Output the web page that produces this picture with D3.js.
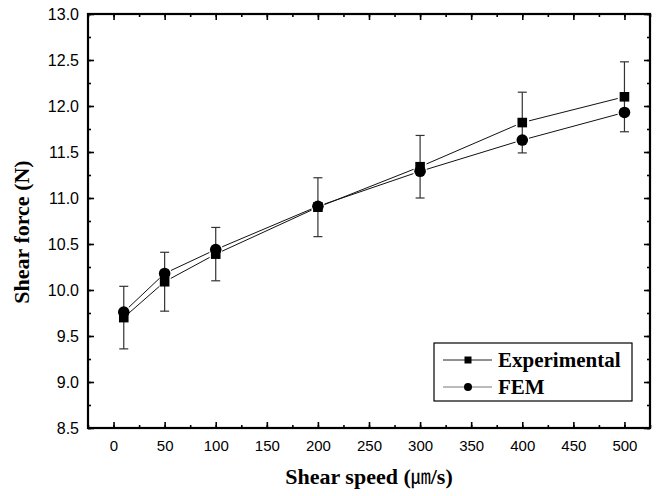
<!DOCTYPE html>
<html>
<head>
<meta charset="utf-8">
<script src="https://cdn.jsdelivr.net/npm/d3@7"></script>
<style>
  body { margin: 0; background: #fff; }
  svg { display: block; }
</style>
</head>
<body>
<div id="chart"></div>
<script>
// data
const speeds = [10, 50, 100, 200, 300, 400, 500];
const expForce = [9.70, 10.09, 10.39, 10.90, 11.34, 11.82, 12.10];
const expErr = [0.34, 0.32, 0.29, 0.32, 0.34, 0.33, 0.38];
const femForce = [9.76, 10.18, 10.44, 10.91, 11.29, 11.63, 11.93];
const xTicks = [0, 50, 100, 150, 200, 250, 300, 350, 400, 450, 500];
const yTicks = [8.5, 9.0, 9.5, 10.0, 10.5, 11.0, 11.5, 12.0, 12.5, 13.0];
const seriesNames = ["Experimental", "FEM"];

const W = 656,
    H = 496,
    plotL = 88, plotR = 650, plotT = 14, plotB = 428;

const svg = d3.select("#chart").append("svg")
    .attr("width", W)
    .attr("height", H);

const x = d3.scaleLinear().domain([-25, 525]).range([plotL, plotR]);
const y = d3.scaleLinear().domain([8.5, 13.0]).range([plotB, plotT]);

const minorX = d3.range(-25, 526, 25);
const minorY = d3.range(8.5, 13.01, 0.25);

// ticks (inward) on all four sides
function tickAxes(g, axisFn, scale, majors, minors, labels, fmt, pad) {
    g.append("g").call(axisFn(scale).tickValues(minors).tickSize(-3).tickFormat(""));
    return g.append("g").call(axisFn(scale).tickValues(majors).tickSize(-6)
        .tickPadding(labels ? pad : 0)
        .tickFormat(labels ? fmt : ""));
}

const gx = svg.append("g").attr("transform", "translate(0," + plotB + ")");
tickAxes(gx, d3.axisBottom, x, xTicks, minorX, true, d3.format(".0f"), 12)
    .selectAll("text").attr("font-size", 15);

const gxt = svg.append("g").attr("transform", "translate(0," + plotT + ")");
tickAxes(gxt, d3.axisTop, x, xTicks, minorX, false);

const gy = svg.append("g").attr("transform", "translate(" + plotL + ",0)");
tickAxes(gy, d3.axisLeft, y, yTicks, minorY, true, d3.format(".1f"), 9)
    .selectAll("text").attr("font-size", 16);

const gyr = svg.append("g").attr("transform", "translate(" + plotR + ",0)");
tickAxes(gyr, d3.axisRight, y, yTicks, minorY, false);

svg.selectAll(".domain").remove();
svg.selectAll(".tick line").attr("stroke", "#000").attr("stroke-width", 1.6);
svg.selectAll(".tick text")
    .attr("font-family", "Liberation Sans, Arial, sans-serif")
    .attr("fill", "#000");

// frame
svg.append("rect")
    .attr("x", plotL).attr("y", plotT)
    .attr("width", plotR - plotL).attr("height", plotB - plotT)
    .attr("fill", "none").attr("stroke", "#000").attr("stroke-width", 2.2);

// connecting lines, trimmed a little around the markers
function segments(vals, gap) {
    const segs = [];
    for (let i = 0; i < speeds.length - 1; i++) {
        const x1 = x(speeds[i]), y1 = y(vals[i]), x2 = x(speeds[i + 1]), y2 = y(vals[i + 1]);
        const len = Math.hypot(x2 - x1, y2 - y1);
        const ux = (x2 - x1) / len, uy = (y2 - y1) / len;
        segs.push([x1 + ux * gap, y1 + uy * gap, x2 - ux * gap, y2 - uy * gap]);
    }
    return segs;
}

[expForce, femForce].forEach(function (vals) {
    svg.append("g").selectAll("line")
        .data(segments(vals, 7))
        .enter().append("line")
        .attr("x1", d => d[0]).attr("y1", d => d[1])
        .attr("x2", d => d[2]).attr("y2", d => d[3])
        .attr("stroke", "#111").attr("stroke-width", 1);
});

// error bars for experimental
const eb = svg.append("g").attr("stroke", "#333").attr("stroke-width", 1.2);
speeds.forEach(function (s, i) {
    const cx = x(s), y0 = y(expForce[i] - expErr[i]), y1 = y(expForce[i] + expErr[i]);
    eb.append("line").attr("x1", cx).attr("x2", cx).attr("y1", y0).attr("y2", y1);
    eb.append("line").attr("x1", cx - 4.5).attr("x2", cx + 4.5).attr("y1", y0).attr("y2", y0);
    eb.append("line").attr("x1", cx - 4.5).attr("x2", cx + 4.5).attr("y1", y1).attr("y2", y1);
});

// markers
svg.append("g").selectAll("circle")
    .data(speeds)
    .enter().append("circle")
    .attr("cx", d => x(d))
    .attr("cy", (d, i) => y(femForce[i]))
    .attr("r", 5.8)
    .attr("fill", "#000");

svg.append("g").selectAll("rect")
    .data(speeds)
    .enter().append("rect")
    .attr("x", d => x(d) - 4.8)
    .attr("y", (d, i) => y(expForce[i]) - 4.8)
    .attr("width", 9.6).attr("height", 9.6)
    .attr("fill", "#000");

// legend
const lg = svg.append("g");
lg.append("rect")
    .attr("x", 434).attr("y", 343).attr("width", 198).attr("height", 58)
    .attr("fill", "#fff").attr("stroke", "#000").attr("stroke-width", 1.2);
seriesNames.forEach(function (name, i) {
    const yy = 360 + i * 27;
    lg.append("line").attr("x1", 443).attr("x2", 492).attr("y1", yy).attr("y2", yy)
        .attr("stroke", i === 0 ? "#222" : "#777").attr("stroke-width", 1);
    if (i === 0) {
        lg.append("rect").attr("x", 464.5).attr("y", yy - 3.5).attr("width", 7).attr("height", 7)
            .attr("fill", "#000");
    } else {
        lg.append("circle").attr("cx", 468).attr("cy", yy).attr("r", 4).attr("fill", "#000");
    }
    lg.append("text").attr("x", 498).attr("y", yy + 7)
        .attr("font-family", "Liberation Serif, Times New Roman, serif")
        .attr("font-weight", "bold").attr("font-size", 21)
        .text(name);
});

// axis titles
const xt = svg.append("text")
    .attr("x", (plotL + plotR) / 2).attr("y", 484)
    .attr("text-anchor", "middle")
    .attr("font-family", "Liberation Serif, Times New Roman, serif")
    .attr("font-weight", "bold").attr("font-size", 22);
xt.append("tspan").text("Shear speed (");
xt.append("tspan").attr("font-family", "Noto Sans CJK KR").attr("font-weight", "normal")
    .attr("font-size", 20).text("㎛");
xt.append("tspan").text("/s)");

svg.append("text")
    .attr("transform", "translate(29,232) rotate(-90)")
    .attr("text-anchor", "middle")
    .attr("font-family", "Liberation Serif, Times New Roman, serif")
    .attr("font-weight", "bold").attr("font-size", 22)
    .text("Shear force (N)");
</script>
</body>
</html>
